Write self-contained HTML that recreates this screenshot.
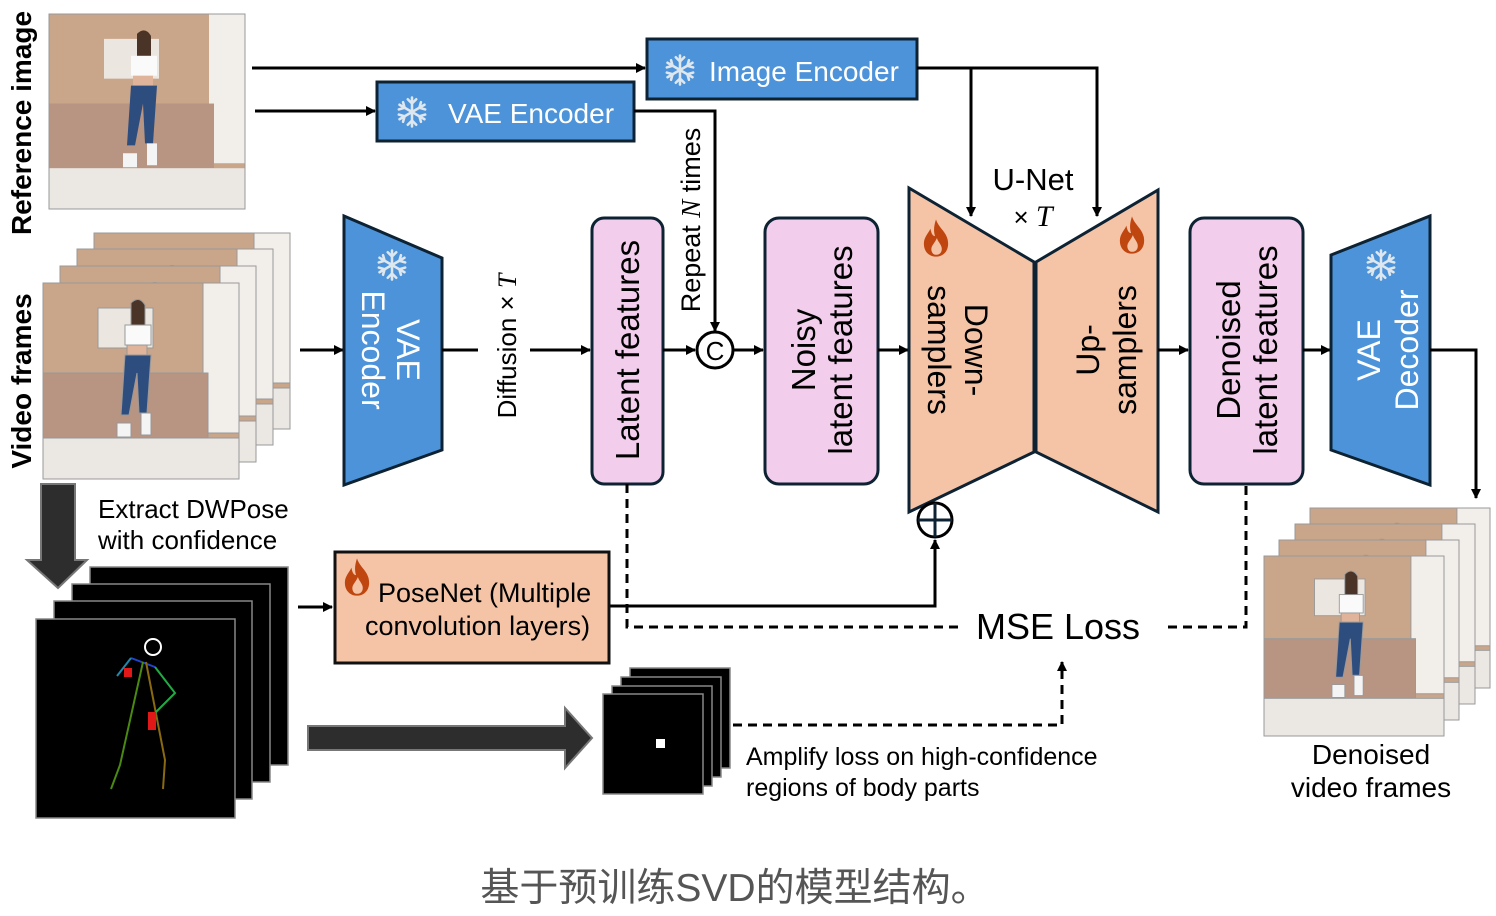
<!DOCTYPE html>
<html><head><meta charset="utf-8"><style>
html,body{margin:0;padding:0;background:#fff;}
svg{display:block;font-family:"Liberation Sans",Arial,sans-serif;}
</style></head><body>
<svg width="1496" height="916" viewBox="0 0 1496 916" xmlns="http://www.w3.org/2000/svg">
<defs>
<marker id="ah" markerWidth="10" markerHeight="10" refX="9" refY="5" orient="auto" markerUnits="userSpaceOnUse"><path d="M0,0 L10,5 L0,10 Z" fill="#000"/></marker>
<symbol id="photo" viewBox="0 0 196 196" preserveAspectRatio="none">
<rect width="196" height="196" fill="#c9a58a"/>
<rect x="160" y="0" width="36" height="150" fill="#f2eeea"/>
<rect x="55" y="25" width="55" height="40" fill="#ece6e0"/>
<rect x="0" y="90" width="165" height="65" fill="#b89482"/>
<rect x="0" y="155" width="196" height="41" fill="#ebe7e3"/>
<path d="M88 20 q8 -8 14 2 l0 30 l-14 0 z" fill="#4a3428"/>
<rect x="82" y="42" width="26" height="20" fill="#fafafa"/>
<rect x="84" y="62" width="20" height="10" fill="#e0b49a"/>
<path d="M82 72 l26 0 l-4 58 l-8 0 l-2 -40 l-8 42 l-8 0 z" fill="#2d4d7e"/>
<path d="M74 140 l14 0 l0 14 l-14 0 z M98 130 l10 0 l0 22 l-10 0 z" fill="#f4f4f4"/>
</symbol>
<symbol id="snow" viewBox="-20 -20 40 40">
<g stroke="#dfe7ee" stroke-width="3" stroke-linecap="round" fill="none">
<path d="M0 -17 V17 M-14.7 -8.5 L14.7 8.5 M-14.7 8.5 L14.7 -8.5"/>
<path d="M-5 -15 L0 -10 L5 -15 M-5 15 L0 10 L5 15 M-15.5 -3 L-8.7 -5 L-10.5 -11.5 M15.5 3 L8.7 5 L10.5 11.5 M-15.5 3 L-8.7 5 L-10.5 11.5 M15.5 -3 L8.7 -5 L10.5 -11.5"/>
</g></symbol>
<symbol id="fire" viewBox="0 0 30 40">
<path d="M15 0 C18 10 28 14 28 26 C28 35 22 40 15 40 C8 40 2 35 2 26 C2 19 7 15 9 10 C10 16 12 18 14 18 C12 12 13 6 15 0 Z M15 38 C19 38 22 35 21 30 C20 26 17 24 16 20 C14 25 10 28 10 32 C10 35 12 38 15 38Z" fill="#c0460f" fill-rule="evenodd"/>
</symbol>
</defs>

<text transform="translate(31,123) rotate(-90)" text-anchor="middle" font-size="28" font-weight="bold">Reference image</text>
<text transform="translate(31,381) rotate(-90)" text-anchor="middle" font-size="28" font-weight="bold">Video frames</text>

<use href="#photo" x="49" y="14" width="196" height="195"/>
<rect x="49" y="14" width="196" height="195" fill="none" stroke="#999" stroke-width="1"/>

<g stroke="#999" stroke-width="1">
<use href="#photo" x="94" y="233" width="196" height="196"/><rect x="94" y="233" width="196" height="196" fill="none"/>
<use href="#photo" x="77" y="249" width="196" height="196"/><rect x="77" y="249" width="196" height="196" fill="none"/>
<use href="#photo" x="60" y="266" width="196" height="196"/><rect x="60" y="266" width="196" height="196" fill="none"/>
<use href="#photo" x="43" y="283" width="196" height="196"/><rect x="43" y="283" width="196" height="196" fill="none"/>
</g>

<line x1="252" y1="68" x2="645" y2="68" stroke="#000" stroke-width="3" marker-end="url(#ah)"/>
<line x1="255" y1="111" x2="375" y2="111" stroke="#000" stroke-width="3" marker-end="url(#ah)"/>

<rect x="647" y="39" width="270" height="60" fill="#4d93d9" stroke="#0d2233" stroke-width="3"/>
<use href="#snow" x="663" y="53" width="34" height="34"/>
<text x="709" y="81" font-size="28" fill="#fff">Image Encoder</text>

<rect x="377" y="82" width="257" height="59" fill="#4d93d9" stroke="#0d2233" stroke-width="3"/>
<use href="#snow" x="395" y="95" width="34" height="34"/>
<text x="448" y="123" font-size="28" fill="#fff">VAE Encoder</text>

<polyline points="634,111 715,111 715,331" fill="none" stroke="#000" stroke-width="3" marker-end="url(#ah)"/>
<text transform="translate(700,220) rotate(-90)" text-anchor="middle" font-size="27">Repeat <tspan font-family="Liberation Serif" font-style="italic">N</tspan> times</text>

<polyline points="917,68 1097,68 1097,216" fill="none" stroke="#000" stroke-width="3" marker-end="url(#ah)"/>
<line x1="971" y1="68" x2="971" y2="216" stroke="#000" stroke-width="3" marker-end="url(#ah)"/>

<line x1="300" y1="350" x2="343" y2="350" stroke="#000" stroke-width="3" marker-end="url(#ah)"/>
<polygon points="344,216 442,258 442,450 344,485" fill="#4d93d9" stroke="#0d2233" stroke-width="3"/>
<use href="#snow" x="375" y="248" width="34" height="34"/>
<text transform="translate(393,350) rotate(90)" text-anchor="middle" font-size="32" fill="#fff"><tspan x="0" dy="-4">VAE</tspan><tspan x="0" dy="35">Encoder</tspan></text>
<line x1="442" y1="350" x2="478" y2="350" stroke="#000" stroke-width="3"/>
<text transform="translate(516,346) rotate(-90)" text-anchor="middle" font-size="26">Diffusion × <tspan font-family="Liberation Serif" font-style="italic">T</tspan></text>
<line x1="530" y1="350" x2="590" y2="350" stroke="#000" stroke-width="3" marker-end="url(#ah)"/>

<rect x="592" y="218" width="71" height="266" rx="12" fill="#f2cdec" stroke="#0d2233" stroke-width="3"/>
<text transform="translate(639,350) rotate(-90)" text-anchor="middle" font-size="33">Latent features</text>
<line x1="663" y1="350" x2="695" y2="350" stroke="#000" stroke-width="3" marker-end="url(#ah)"/>
<circle cx="715" cy="350" r="18" fill="#fff" stroke="#000" stroke-width="3"/>
<text x="715" y="360" text-anchor="middle" font-size="26">C</text>
<line x1="733" y1="350" x2="763" y2="350" stroke="#000" stroke-width="3" marker-end="url(#ah)"/>

<rect x="765" y="218" width="113" height="266" rx="14" fill="#f2cdec" stroke="#0d2233" stroke-width="3"/>
<text transform="translate(821,350) rotate(-90)" text-anchor="middle" font-size="33"><tspan x="0" dy="-6">Noisy</tspan><tspan x="0" dy="37">latent features</tspan></text>
<line x1="878" y1="350" x2="908" y2="350" stroke="#000" stroke-width="3" marker-end="url(#ah)"/>

<polygon points="909,188 1034,262 1034,452 909,512" fill="#f5c4a6" stroke="#0d2233" stroke-width="3"/>
<polygon points="1036,262 1158,190 1158,512 1036,452" fill="#f5c4a6" stroke="#0d2233" stroke-width="3"/>
<use href="#fire" x="922" y="219" width="28" height="38"/>
<use href="#fire" x="1118" y="216" width="28" height="38"/>
<text transform="translate(957,350) rotate(90)" text-anchor="middle" font-size="32"><tspan x="0" dy="-8">Down-</tspan><tspan x="0" dy="37">samplers</tspan></text>
<text transform="translate(1107,350) rotate(-90)" text-anchor="middle" font-size="32"><tspan x="0" dy="-8">Up-</tspan><tspan x="0" dy="37">samplers</tspan></text>
<text x="1033" y="190" text-anchor="middle" font-size="31">U-Net</text>
<text x="1033" y="226" text-anchor="middle" font-size="26">× <tspan font-family="Liberation Serif" font-style="italic" font-size="30">T</tspan></text>
<line x1="1158" y1="350" x2="1188" y2="350" stroke="#000" stroke-width="3" marker-end="url(#ah)"/>

<rect x="1190" y="218" width="113" height="266" rx="14" fill="#f2cdec" stroke="#0d2233" stroke-width="3"/>
<text transform="translate(1246,350) rotate(-90)" text-anchor="middle" font-size="33"><tspan x="0" dy="-6">Denoised</tspan><tspan x="0" dy="37">latent features</tspan></text>
<line x1="1303" y1="350" x2="1330" y2="350" stroke="#000" stroke-width="3" marker-end="url(#ah)"/>

<polygon points="1331,255 1430,216 1430,485 1331,450" fill="#4d93d9" stroke="#0d2233" stroke-width="3"/>
<use href="#snow" x="1364" y="248" width="34" height="34"/>
<text transform="translate(1384,350) rotate(-90)" text-anchor="middle" font-size="32" fill="#fff"><tspan x="0" dy="-4">VAE</tspan><tspan x="0" dy="38">Decoder</tspan></text>
<polyline points="1430,350 1476,350 1476,498" fill="none" stroke="#000" stroke-width="3" marker-end="url(#ah)"/>

<g stroke="#999" stroke-width="1">
<use href="#photo" x="1310" y="508" width="180" height="180"/><rect x="1310" y="508" width="180" height="180" fill="none"/>
<use href="#photo" x="1295" y="524" width="180" height="180"/><rect x="1295" y="524" width="180" height="180" fill="none"/>
<use href="#photo" x="1279" y="540" width="180" height="180"/><rect x="1279" y="540" width="180" height="180" fill="none"/>
<use href="#photo" x="1264" y="556" width="180" height="180"/><rect x="1264" y="556" width="180" height="180" fill="none"/>
</g>
<text x="1371" y="764" text-anchor="middle" font-size="28">Denoised</text>
<text x="1371" y="797" text-anchor="middle" font-size="28">video frames</text>

<polyline points="609,606 935,606 935,540" fill="none" stroke="#000" stroke-width="3" marker-end="url(#ah)"/>
<circle cx="935" cy="520" r="17" fill="#fff" stroke="#000" stroke-width="3"/>
<path d="M918 520 H952 M935 503 V537" stroke="#0d2233" stroke-width="3"/>

<polyline points="627,484 627,627 958,627" fill="none" stroke="#000" stroke-width="3" stroke-dasharray="9,6"/>
<polyline points="1168,627 1246,627 1246,484" fill="none" stroke="#000" stroke-width="3" stroke-dasharray="9,6"/>
<text x="976" y="639" font-size="36">MSE Loss</text>
<polyline points="733,725 1062,725 1062,662" fill="none" stroke="#000" stroke-width="3" stroke-dasharray="9,6" marker-end="url(#ah)"/>

<polygon points="41,484 75,484 75,560 87,560 58,588 27,560 41,560" fill="#2d2d2d" stroke="#777" stroke-width="2"/>
<text x="98" y="518" font-size="26">Extract DWPose</text>
<text x="98" y="549" font-size="26">with confidence</text>

<g stroke="#888" stroke-width="1.5" fill="#000">
<rect x="90" y="567" width="198" height="198"/>
<rect x="72" y="584" width="198" height="198"/>
<rect x="54" y="601" width="198" height="198"/>
<rect x="36" y="619" width="199" height="199"/>
</g>
<g stroke-width="2" fill="none">
<circle cx="153" cy="647" r="8" stroke="#fff"/>
<path d="M131 658 L155 667" stroke="#2244cc"/>
<path d="M131 658 L117 676" stroke="#2288aa"/>
<path d="M143 662 L120 765 L111 789" stroke="#4a8a10"/>
<path d="M146 662 L165 760 L163 789" stroke="#8a6a10"/>
<path d="M155 667 L175 693 L155 713" stroke="#22aa44"/>
</g>
<path d="M124 668 l8 0 l0 9 l-8 0z M148 712 l8 0 l0 18 l-8 0z" fill="#e01818"/>

<line x1="298" y1="607" x2="332" y2="607" stroke="#000" stroke-width="3" marker-end="url(#ah)"/>
<rect x="335" y="552" width="274" height="111" fill="#f5c4a6" stroke="#111" stroke-width="3"/>
<use href="#fire" x="343" y="558" width="28" height="38"/>
<text x="378" y="602" font-size="27">PoseNet (Multiple</text>
<text x="365" y="635" font-size="27">convolution layers)</text>

<polygon points="308,726 565,726 565,708 592,738 565,768 565,750 308,750" fill="#2d2d2d" stroke="#777" stroke-width="2"/>

<g stroke="#888" stroke-width="1.5" fill="#000">
<rect x="630" y="668" width="100" height="100"/>
<rect x="621" y="677" width="100" height="100"/>
<rect x="612" y="686" width="100" height="100"/>
<rect x="603" y="694" width="100" height="100"/>
</g>
<rect x="656" y="739" width="9" height="9" fill="#fff"/>
<text x="746" y="765" font-size="25">Amplify loss on high-confidence</text>
<text x="746" y="796" font-size="25">regions of body parts</text>

<text x="735" y="901" text-anchor="middle" font-size="39" fill="#555" font-family="'Liberation Sans','Noto Sans CJK SC',sans-serif">基于预训练SVD的模型结构。</text>
</svg>
</body></html>
